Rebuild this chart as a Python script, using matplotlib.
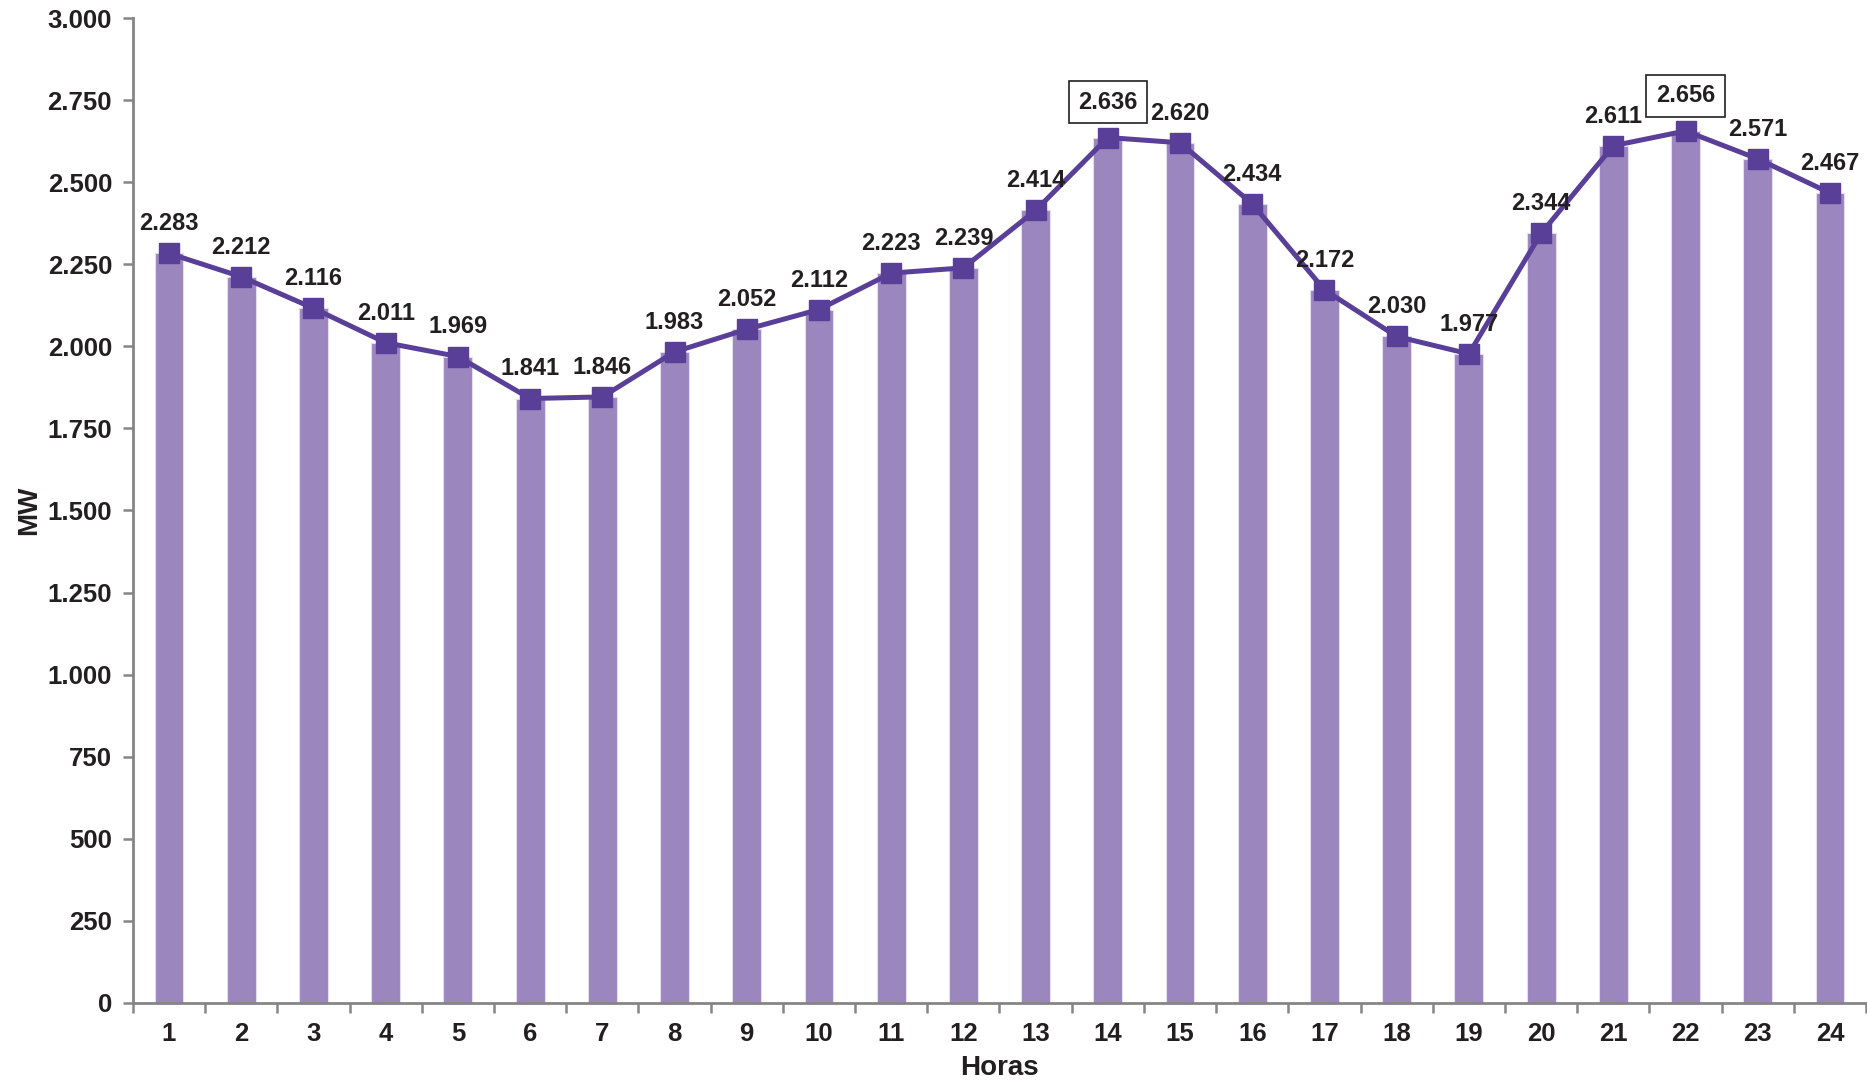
import numpy as np
import matplotlib.pyplot as plt
from matplotlib.ticker import FuncFormatter, FixedLocator

plt.rcParams['font.family'] = ['Liberation Sans', 'DejaVu Sans']

# Datos: demanda horaria (MW)
horas = list(range(1, 25))
demanda = [2283, 2212, 2116, 2011, 1969, 1841, 1846, 1983, 2052, 2112, 2223, 2239,
           2414, 2636, 2620, 2434, 2172, 2030, 1977, 2344, 2611, 2656, 2571, 2467]
destacados = [14, 22]  # etiquetas con recuadro

color_barra = '#9B86BD'
color_linea = '#5A3F99'
color_eje = '#858585'
color_texto = '#231F20'

fig, ax = plt.subplots(figsize=(18.67, 10.85), dpi=100)
fig.subplots_adjust(left=0.0712, right=0.9995, top=0.9834, bottom=0.0756)

ax.bar(horas, demanda, width=0.4, color=color_barra, edgecolor='#E4DDEE', linewidth=0.8, zorder=2)
ax.plot(horas, demanda, color=color_linea, linewidth=3.6, marker='s', markersize=14, zorder=3)

def miles(v, pos):
    return f'{int(v):,}'.replace(',', '.')

for h, v in zip(horas, demanda):
    txt = miles(v, None)
    if h in destacados:
        ax.annotate(txt, (h, v), xytext=(0, 17), textcoords='offset points', ha='center', va='bottom',
                    fontsize=17, fontweight='bold', color=color_texto, zorder=4,
                    bbox=dict(boxstyle='square,pad=0.4', fc='white', ec=color_texto, lw=1.2))
    else:
        ax.annotate(txt, (h, v), xytext=(0, 13), textcoords='offset points', ha='center', va='bottom',
                    fontsize=17, fontweight='bold', color=color_texto, zorder=4)

ax.set_xlim(0.5, 24.5)
ax.set_ylim(0, 3000)
ax.set_yticks(np.arange(0, 3001, 250))
ax.yaxis.set_major_formatter(FuncFormatter(miles))
ax.set_xticks(horas)
ax.xaxis.set_minor_locator(FixedLocator(np.arange(0.5, 25, 1)))
ax.tick_params(axis='x', which='major', length=0, pad=14, labelsize=18.5)
ax.tick_params(axis='x', which='minor', length=7, width=1.8, color=color_eje, direction='out')
ax.tick_params(axis='y', length=7, width=1.8, color=color_eje, direction='out', pad=8, labelsize=18.5)
for lbl in ax.get_xticklabels() + ax.get_yticklabels():
    lbl.set_fontweight('bold')
    lbl.set_color(color_texto)

for s in ['top', 'right']:
    ax.spines[s].set_visible(False)
for s in ['left', 'bottom']:
    ax.spines[s].set_color(color_eje)
    ax.spines[s].set_linewidth(2)

ax.set_xlabel('Horas', fontsize=20, fontweight='bold', color=color_texto, labelpad=6)
ax.set_ylabel('MW', fontsize=20, fontweight='bold', color=color_texto, labelpad=4)

plt.savefig('out.png', dpi=100)
